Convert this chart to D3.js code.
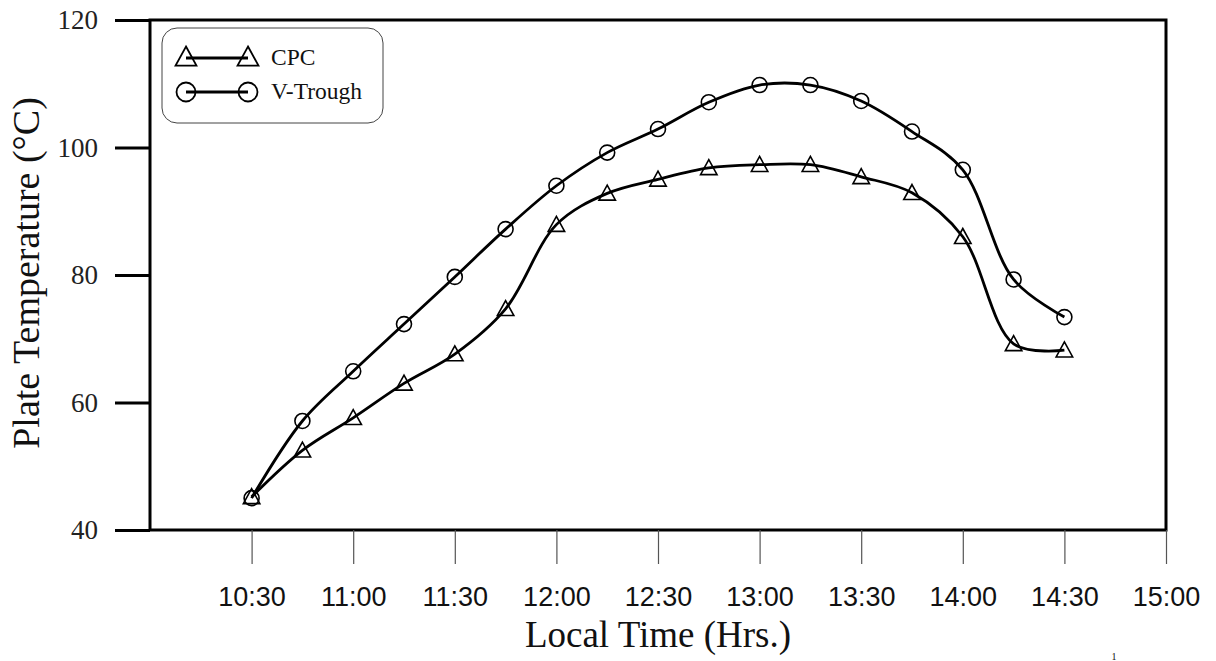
<!DOCTYPE html>
<html>
<head>
<meta charset="utf-8">
<script src="https://cdn.jsdelivr.net/npm/d3@7"></script>
<style>
  body { margin: 0; background: #fff; }
  svg { display: block; }
</style>
</head>
<body>
<div id="chart"></div>
<script>
// times in minutes after 10:00
const times = [30, 45, 60, 75, 90, 105, 120, 135, 150, 165, 180, 195, 210, 225, 240, 255, 270];
const cpc = [45.2, 52.5, 57.6, 63, 67.6, 74.7, 87.9, 92.8, 95, 96.8, 97.3, 97.3, 95.4, 92.9, 86, 69.2, 68.2];
const vTrough = [45, 57.1, 64.9, 72.3, 79.7, 87.2, 94, 99.2, 102.9, 107.1, 109.8, 109.8, 107.3, 102.5, 96.5, 79.3, 73.4];
const xTicks = [30, 60, 90, 120, 150, 180, 210, 240, 270, 300];
const xTickLabels = ['10:30', '11:00', '11:30', '12:00', '12:30', '13:00', '13:30', '14:00', '14:30', '15:00'];
const yTicks = [40, 60, 80, 100, 120];

const width = 1216, height = 661;
const margin = { left: 150, right: 50, top: 20, bottom: 131 };

const svg = d3.select('#chart')
    .append('svg')
    .attr('width', width)
    .attr('height', height);

const x = d3.scaleLinear()
    .domain([0, 300])
    .range([margin.left, width - margin.right]);
const y = d3.scaleLinear()
    .domain([40, 120])
    .range([height - margin.bottom, margin.top]);

const serif = '"Liberation Serif", "Times New Roman", serif';
const sans = '"Liberation Sans", Arial, sans-serif';

/* frame */
svg.append('rect')
    .attr('x', x(0))
    .attr('y', y(120))
    .attr('width', x(300) - x(0))
    .attr('height', y(40) - y(120))
    .attr('fill', 'none')
    .attr('stroke', '#000')
    .attr('stroke-width', 3);

/* y axis */
const yAxis = svg.append('g')
    .attr('transform', `translate(${x(0)},0)`)
    .call(d3.axisLeft(y).tickValues(yTicks).tickSize(35).tickPadding(17));
yAxis.select('.domain').remove();
yAxis.selectAll('.tick line').attr('stroke', '#000').attr('stroke-width', 3);
yAxis.selectAll('.tick text')
    .attr('font-family', serif)
    .attr('font-size', 27)
    .attr('fill', '#222');

/* x axis */
const xAxis = svg.append('g')
    .attr('transform', `translate(0,${y(40)})`)
    .call(d3.axisBottom(x).tickValues(xTicks)
        .tickFormat((d, i) => xTickLabels[i])
        .tickSize(34).tickPadding(23));
xAxis.select('.domain').remove();
xAxis.selectAll('.tick line').attr('stroke', '#555').attr('stroke-width', 1.2);
xAxis.selectAll('.tick text')
    .attr('font-family', sans)
    .attr('font-size', 27)
    .attr('fill', '#111');

/* axis titles */
svg.append('text')
    .attr('x', (x(0) + x(300)) / 2)
    .attr('y', 647)
    .attr('text-anchor', 'middle')
    .attr('font-family', serif)
    .attr('font-size', 37)
    .attr('fill', '#111')
    .text('Local Time (Hrs.)');

svg.append('text')
    .attr('transform', `translate(39,${(y(40) + y(120)) / 2 - 2}) rotate(-90)`)
    .attr('text-anchor', 'middle')
    .attr('font-family', serif)
    .attr('font-size', 38)
    .attr('fill', '#111')
    .text('Plate Temperature (°C)');

svg.append('text')
    .attr('x', 1114)
    .attr('y', 660)
    .attr('text-anchor', 'middle')
    .attr('font-family', serif)
    .attr('font-size', 10)
    .attr('fill', '#111')
    .text('1');

/* series */
const line = d3.line()
    .x((d) => x(d.t))
    .y((d) => y(d.v))
    .curve(d3.curveCatmullRom.alpha(0.5));

const triangle = (s) => `M0,${-s * 0.55} L${s * 0.55},${s * 0.45} L${-s * 0.55},${s * 0.45} Z`;

const series = [
    { name: 'CPC', values: cpc, marker: 'tri' },
    { name: 'V-Trough', values: vTrough, marker: 'circle' }
];

series.forEach((s) => {
    const pts = times.map((t, i) => ({ t: t, v: s.values[i] }));
    svg.append('path')
        .datum(pts)
        .attr('d', line)
        .attr('fill', 'none')
        .attr('stroke', '#000')
        .attr('stroke-width', 2.8);

    const g = svg.append('g');
    if (s.marker === 'tri') {
        g.selectAll('path')
            .data(pts)
            .enter().append('path')
            .attr('transform', (d) => `translate(${x(d.t)},${y(d.v)})`)
            .attr('d', triangle(15))
            .attr('fill', 'none')
            .attr('stroke', '#000')
            .attr('stroke-width', 1.6);
    } else {
        g.selectAll('circle')
            .data(pts)
            .enter().append('circle')
            .attr('cx', (d) => x(d.t))
            .attr('cy', (d) => y(d.v))
            .attr('r', 7.5)
            .attr('fill', 'none')
            .attr('stroke', '#000')
            .attr('stroke-width', 1.6);
    }
});

/* legend */
const legend = svg.append('g');
legend.append('rect')
    .attr('x', 162)
    .attr('y', 28)
    .attr('width', 221)
    .attr('height', 95)
    .attr('rx', 15)
    .attr('fill', '#fff')
    .attr('stroke', '#444')
    .attr('stroke-width', 1);

series.forEach((s, i) => {
    const ly = 58 + i * 34;
    const row = legend.append('g');
    row.append('line')
        .attr('x1', 186).attr('x2', 248)
        .attr('y1', ly).attr('y2', ly)
        .attr('stroke', '#000')
        .attr('stroke-width', 2.8);
    [186, 248].forEach((mx) => {
        if (s.marker === 'tri') {
            row.append('path')
                .attr('transform', `translate(${mx},${ly - 1})`)
                .attr('d', triangle(19))
                .attr('fill', 'none')
                .attr('stroke', '#000')
                .attr('stroke-width', 1.8);
        } else {
            row.append('circle')
                .attr('cx', mx).attr('cy', ly)
                .attr('r', 9.5)
                .attr('fill', 'none')
                .attr('stroke', '#000')
                .attr('stroke-width', 1.8);
        }
    });
    row.append('text')
        .attr('x', 271)
        .attr('y', ly + 7)
        .attr('font-family', serif)
        .attr('font-size', 23.5)
        .attr('fill', '#111')
        .text(s.name);
});
</script>
</body>
</html>
